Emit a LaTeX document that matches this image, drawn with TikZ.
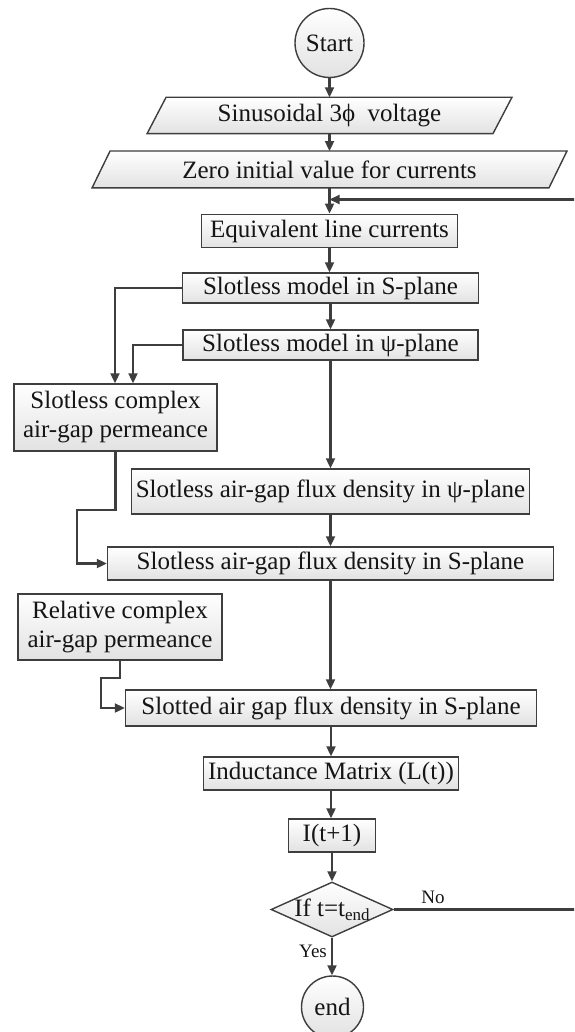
\documentclass[tikz,border=0pt]{standalone}
\usepackage{fontspec}
\setmainfont{Liberation Serif}
\usetikzlibrary{arrows.meta,shapes.geometric,backgrounds}
\definecolor{linec}{HTML}{3E3E3E}
\definecolor{boxg}{HTML}{E2E2E2}
\definecolor{txtc}{HTML}{151515}
\newcommand\bigfnt{\fontsize{25}{29}\selectfont}
\newcommand\labfnt{\fontsize{19}{21}\selectfont}
\tikzset{
  box/.style={rectangle, draw=linec, line width=1.4pt, top color=white, bottom color=boxg,
    inner sep=0pt, align=center, font=\bigfnt, text=txtc},
  term/.style={circle, draw=linec, line width=1.4pt, top color=white, bottom color=boxg,
    inner sep=0pt, font=\bigfnt, text=txtc},
  para/.style={rectangle, draw=none, inner sep=0pt, font=\bigfnt, text=txtc},
  pshape/.style={draw=linec, line width=1.4pt, top color=white, bottom color=boxg},
  decide/.style={diamond, draw=linec, line width=1.4pt, top color=white, bottom color=boxg,
    inner sep=0pt},
  arr/.style={draw=linec, line width=2.1pt, -{Triangle[length=10pt,width=9pt]}},
  lab/.style={font=\labfnt, text=txtc, inner sep=0pt}
}
\begin{document}
\begin{tikzpicture}[x=1pt,y=-1pt]
\useasboundingbox (0,0) rectangle (574,1032);
\clip (0,0) rectangle (574,1032);

\node[term, minimum size=69pt] (start) at (329.5,43) {Start};
\node[para, minimum width=345.5pt, minimum height=36pt] (v) at (329.5,115.5) {Sinusoidal 3ϕ\ \ voltage};
\node[para, minimum width=456.5pt, minimum height=36.5pt] (z) at (329.5,169.5) {Zero initial value for currents};
\node[box, minimum width=256pt, minimum height=33.5pt] (eq) at (329.5,231) {Equivalent line currents};
\node[box, minimum width=296pt, minimum height=30pt] (sS) at (330.5,288) {Slotless model in S-plane};
\node[box, minimum width=295pt, minimum height=30pt] (sP) at (330.5,345) {Slotless model in ψ-plane};
\node[box, minimum width=203pt, minimum height=67pt] (scp) at (115.5,417.5) {Slotless complex\\air-gap permeance};
\node[box, minimum width=398pt, minimum height=45pt] (fP) at (330.5,491.5) {Slotless air-gap flux density in ψ-plane};
\node[box, minimum width=446pt, minimum height=33pt] (fS) at (330.5,563.5) {Slotless air-gap flux density in S-plane};
\node[box, minimum width=204pt, minimum height=66pt] (rcp) at (120,627) {Relative complex\\air-gap permeance};
\node[box, minimum width=411pt, minimum height=36pt] (sl) at (331,708) {Slotted air gap flux density in S-plane};
\node[box, minimum width=255pt, minimum height=33pt] (ind) at (331,773.5) {Inductance Matrix (L(t))};
\node[box, minimum width=87pt, minimum height=33pt] (it) at (332,835.5) {I(t+1)};
\node[decide, minimum width=122pt, minimum height=55pt,
  label={[font=\bigfnt, text=txtc, inner sep=0pt]center:If t=t\raisebox{-0.35ex}{\fontsize{17}{17}\selectfont end}}] (diam) at (332,909.5) {};
\node[term, minimum size=62pt] (end) at (332.5,1007) {end};

\begin{scope}[on background layer]
\draw[pshape] ([xshift=-9.5pt]v.south west) -- ([xshift=9.5pt]v.north west) -- ([xshift=9.5pt]v.north east) -- ([xshift=-9.5pt]v.south east) -- cycle;
\draw[pshape] ([xshift=-9pt]z.south west) -- ([xshift=9pt]z.north west) -- ([xshift=9pt]z.north east) -- ([xshift=-9pt]z.south east) -- cycle;
\end{scope}

\coordinate (fb) at (329.5,199.5);
\coordinate (rc) at (576,909.5);

\draw[arr] (start.south) -- (v.north);
\draw[arr] (v.south) -- (z.north);
\draw[arr] (z.south) -- (eq.north);
\draw[arr] (eq.south) -- (eq.south |- sS.north);
\draw[arr] (sS.south) -- (sP.north);
\draw[arr] (sP.south) -- (fP.north);
\draw[arr] (fP.south) -- (fS.north);
\draw[arr] (fS.south) -- (fS.south |- sl.north);
\draw[arr] (sl.south) -- (ind.north);
\draw[arr] (ind.south) -- (ind.south |- it.north);
\draw[arr] (it.south) -- (diam.north);
\draw[arr] (diam.south) -- (diam.south |- end.north);

\draw[arr] (sS.west) -| ([xshift=-0.5pt]scp.north);
\draw[arr] (sP.west) -| ([xshift=17.5pt]scp.north);
\draw[arr] (scp.south) -- ++(0,58.5) -| ([xshift=-30pt]fS.west) -- (fS.west);
\draw[arr] (rcp.south) -- ++(0,17) -| ([xshift=-24pt]sl.west) -- (sl.west);

\draw[arr] (diam.east) -- (rc) |- (fb);

\node[lab] (no) at (433,897) {No};
\node[lab] (yes) at (313,951) {Yes};
\end{tikzpicture}
\end{document}
